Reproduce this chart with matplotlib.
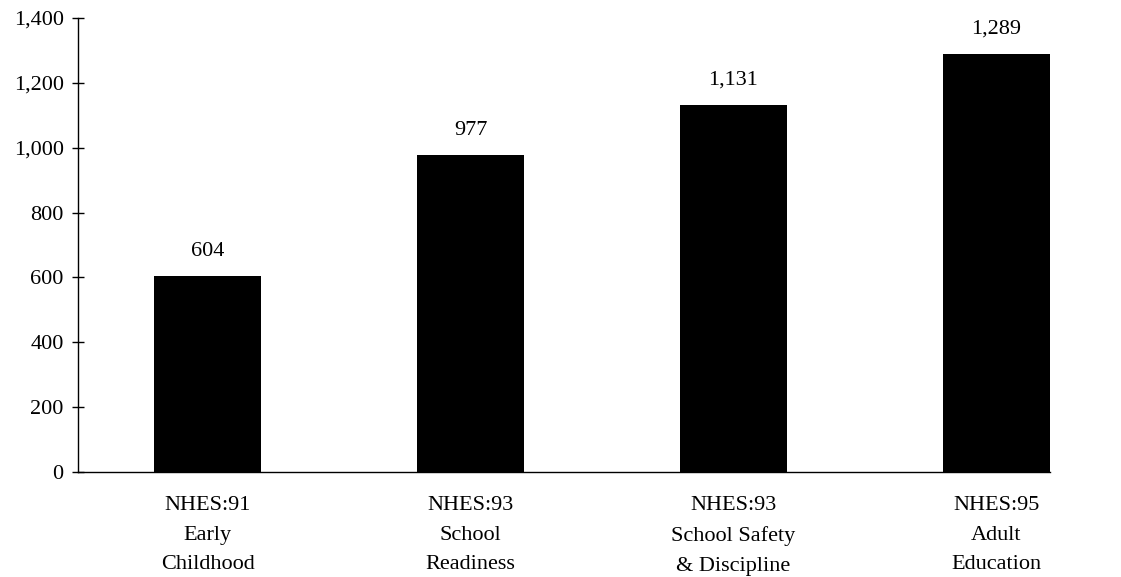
import matplotlib.pyplot as plt
from matplotlib.ticker import FuncFormatter

categories = ['NHES:91\nEarly\nChildhood', 'NHES:93\nSchool\nReadiness',
              'NHES:93\nSchool Safety\n& Discipline', 'NHES:95\nAdult\nEducation']
values = [604, 977, 1131, 1289]

plt.rcParams['font.family'] = ['Liberation Serif', 'DejaVu Serif']
plt.rcParams['font.size'] = 16

fig = plt.figure(figsize=(11.21, 5.77), dpi=100)
ax = fig.add_axes([78/1121, 105/577, (1050-78)/1121, 454/577])

x = list(range(len(categories)))
bars = ax.bar(x, values, width=0.407, color='black')
for b, v in zip(bars, values):
    ax.annotate(f'{v:,}', (b.get_x() + b.get_width()/2, v), xytext=(0, 11),
                textcoords='offset points', ha='center', va='bottom')

ax.set_xlim(-0.494, 3.205)
ax.set_ylim(0, 1400)
ax.set_yticks(range(0, 1401, 200))
ax.yaxis.set_major_formatter(FuncFormatter(lambda v, p: f'{int(v):,}'))
ax.set_xticks(x)
ax.set_xticklabels(categories, linespacing=1.78)
ax.tick_params(axis='x', length=0, pad=17)
ax.tick_params(axis='y', direction='inout', length=8.6, width=1, pad=6)
for s in ['top', 'right']:
    ax.spines[s].set_visible(False)
ax.spines['left'].set_linewidth(1)
ax.spines['bottom'].set_linewidth(1)

plt.savefig('out.png', dpi=100)
